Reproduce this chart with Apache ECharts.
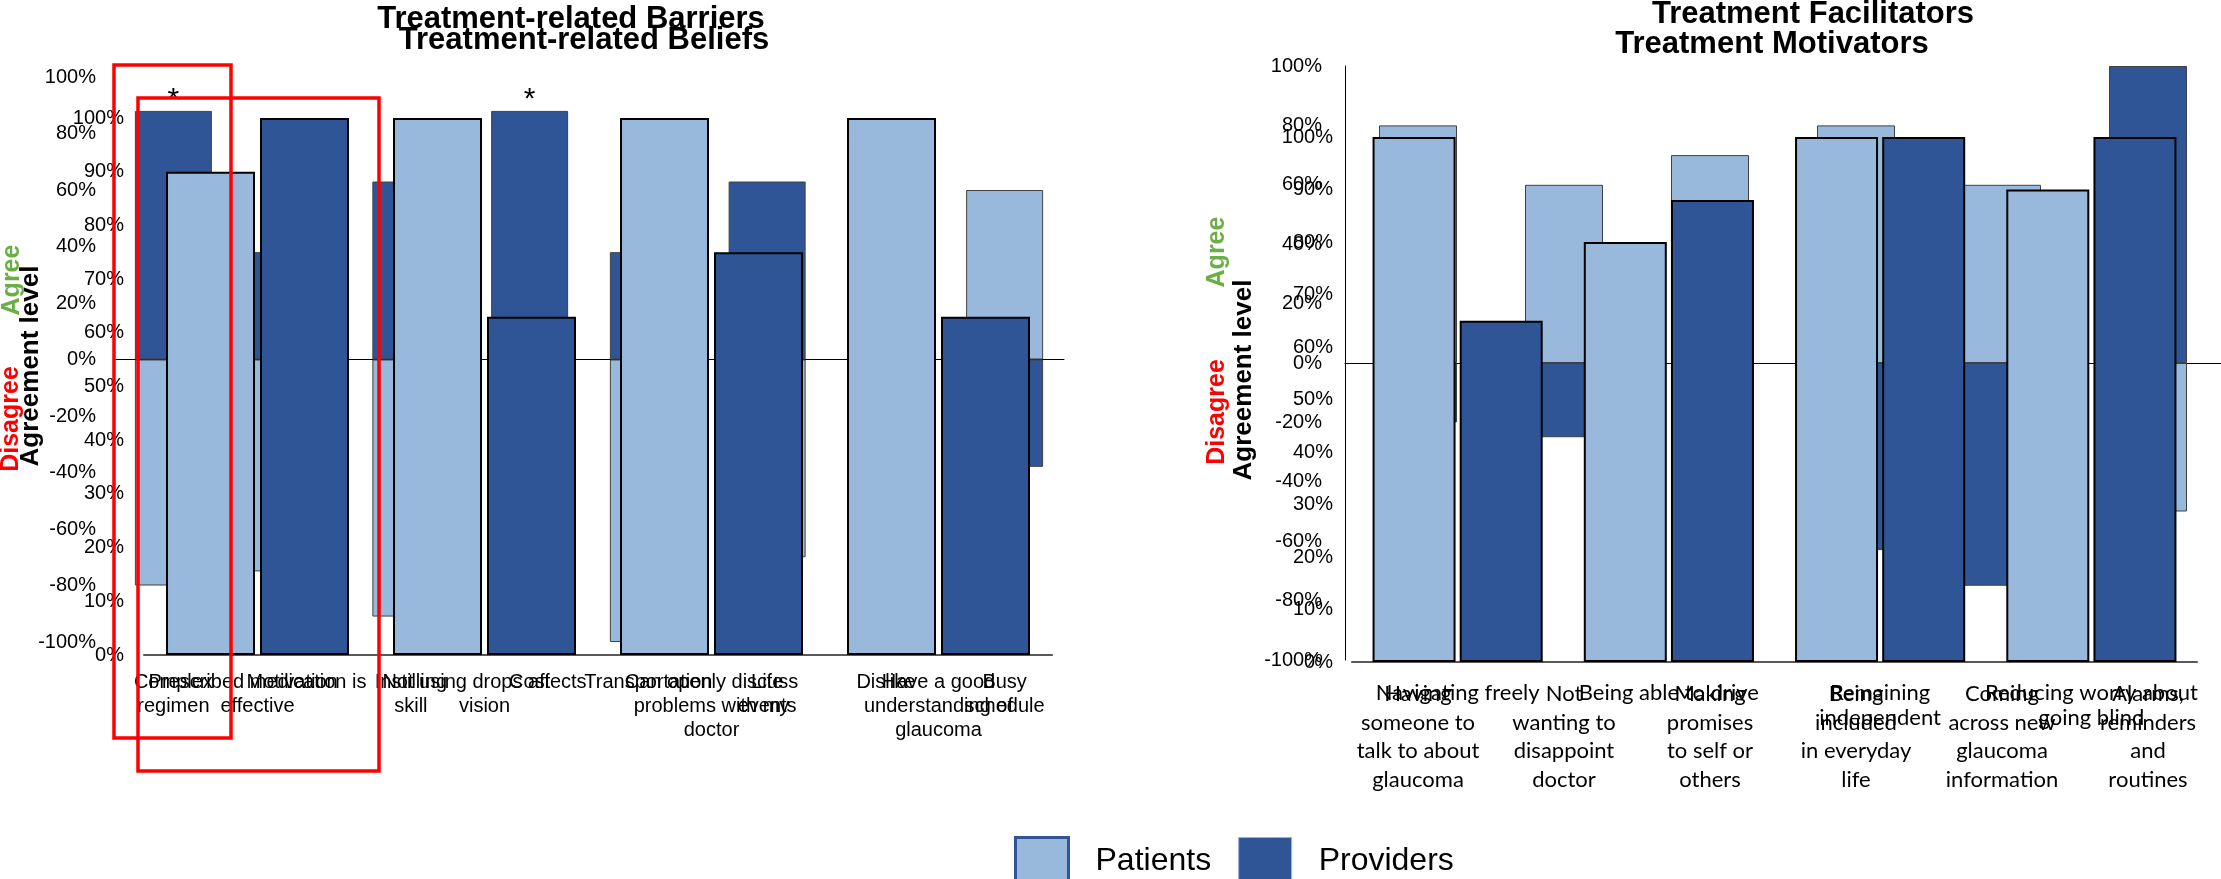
<!DOCTYPE html>
<html>
<head>
<meta charset="utf-8">
<script src="https://cdn.jsdelivr.net/npm/echarts@6/dist/echarts.min.js"></script>
<style>
html,body{margin:0;padding:0;background:#fff;}
#chart{width:2221px;height:879px;}
</style>
</head>
<body>
<div id="chart"></div>
<script>
// ---- Data ----
const barrierCategories = ['Complex\nregimen', 'Motivation', 'Instilling\nskill', 'Cost', 'Transportation', 'Life\nevents', 'Dislike', 'Busy\nschedule'];
const barrierPatients  = [-80, -75, -91, -30, -100, -70, null, 60];
const barrierProviders = [88, 38, 63, 88, 38, 63, null, -38];
const barrierStarred   = [0, 3]; // category indexes with '*'

const beliefCategories = ['Prescribed medication is\neffective', 'Not using drops affects\nvision', 'Can openly discuss\nproblems with my\ndoctor', 'Have a good\nunderstanding of\nglaucoma'];
const beliefPatients  = [90, 100, 100, 100];
const beliefProviders = [100, 63, 75, 63];

const motivatorCategories = ['Having\nsomeone to\ntalk to about\nglaucoma', 'Not\nwanting to\ndisappoint\ndoctor', 'Making\npromises\nto self or\nothers', 'Being\nincluded\nin everyday\nlife', 'Coming\nacross new\nglaucoma\ninformation', 'Alarms,\nreminders\nand\nroutines'];
const motivatorPatients  = [80, 60, 70, 80, 60, -50];
const motivatorProviders = [-20, -25, -20, -63, -75, 100];

const facilitatorCategories = ['Navigating freely', 'Being able to drive', 'Remaining\nindependent', 'Reducing worry about\ngoing blind'];
const facilitatorPatients  = [100, 80, 100, 90];
const facilitatorProviders = [65, 88, 100, 100];

const divergingAxis = {min: -100, max: 100, interval: 20};
const levelAxis = {min: 0, max: 100, interval: 10};

// ---- Styles ----
const LIGHT = '#98B9DC';
const DARK = '#2F5597';
const SANS = "'Liberation Sans', Arial, sans-serif";
const CAL = "Lato, 'Liberation Sans', sans-serif";

const chart = echarts.init(document.getElementById('chart'), null, {renderer: 'canvas'});

function yAx(grid, cfg, margin, line) {
  return {
    type: 'value', gridIndex: grid, min: cfg.min, max: cfg.max, interval: cfg.interval,
    axisLine: {show: !!line, lineStyle: {color: '#000', width: 1}},
    axisTick: {show: false}, splitLine: {show: false},
    axisLabel: {formatter: '{value}%', margin: margin, fontFamily: SANS, fontSize: 20, color: '#000'}
  };
}
function xLabels(grid, cats, margin, family, size, lh, lineShow) {
  return {
    type: 'category', gridIndex: grid, data: cats, position: 'bottom',
    axisLine: {show: !!lineShow, onZero: false, lineStyle: {color: '#595959', width: 2}},
    axisTick: {show: false}, splitLine: {show: false},
    axisLabel: {interval: 0, margin: margin, fontFamily: family, fontSize: size, lineHeight: lh, color: '#000'}
  };
}
function xZero(grid, cats) {
  return {
    type: 'category', gridIndex: grid, data: cats, position: 'top',
    axisLine: {show: true, onZero: true, lineStyle: {color: '#000', width: 1}},
    axisTick: {show: false}, axisLabel: {show: false}, splitLine: {show: false}
  };
}

const thin = c => ({color: c, borderColor: '#404040', borderWidth: 1});
const thick = c => ({color: c, borderColor: '#000', borderWidth: 2});

const barrierProvData = barrierProviders.map((v, i) => barrierStarred.includes(i)
  ? {value: v, label: {show: true, formatter: '*', position: 'top', distance: -4, fontSize: 30, fontFamily: SANS, color: '#000'}}
  : v);

function vtext(x, y, text, color, size) {
  return {type: 'text', x: x, y: y, rotation: Math.PI / 2, z: 50,
    style: {text: text, fill: color, fontFamily: SANS, fontWeight: 'bold', fontSize: size, align: 'center', verticalAlign: 'middle'}};
}
function htext(x, y, text, size) {
  return {type: 'text', x: x, y: y, z: 50,
    style: {text: text, fill: '#000', fontFamily: SANS, fontWeight: 'bold', fontSize: size, align: 'center', verticalAlign: 'middle'}};
}

const option = {
  animation: false,
  backgroundColor: '#fff',
  grid: [
    {left: 114, right: 1157, top: 77, bottom: 237},
    {left: 144, right: 1169, top: 118, bottom: 224},
    {left: 1345, right: -5, top: 66, bottom: 219},
    {left: 1352, right: 24, top: 137, bottom: 217}
  ],
  xAxis: [
    xLabels(0, barrierCategories, 28, SANS, 20, 24, false),
    xZero(0, barrierCategories),
    xLabels(1, beliefCategories, 15, SANS, 20, 24, true),
    xLabels(2, motivatorCategories, 20, CAL, 22, 28.5, false),
    xZero(2, motivatorCategories),
    xLabels(3, facilitatorCategories, 18, CAL, 22, 25, true)
  ],
  yAxis: [
    yAx(0, divergingAxis, 18, false),
    yAx(1, levelAxis, 20, false),
    yAx(2, divergingAxis, 23, true),
    yAx(3, levelAxis, 19, false)
  ],
  legend: {
    left: 1009, top: 831, itemWidth: 53, itemHeight: 47, itemGap: 27, icon: 'rect', selectedMode: false,
    textStyle: {fontFamily: SANS, fontSize: 32, color: '#000', padding: [0, 0, 0, 22]},
    data: [
      {name: 'Patients', itemStyle: {color: LIGHT, borderColor: DARK, borderWidth: 3}},
      {name: 'Providers', itemStyle: {color: DARK, borderColor: '#9DB3DD', borderWidth: 1}}
    ]
  },
  series: [
    {name: 'Patients', type: 'bar', xAxisIndex: 0, yAxisIndex: 0, stack: 'barriers', barWidth: 77, z: 2, itemStyle: thin(LIGHT), data: barrierPatients},
    {name: 'Providers', type: 'bar', xAxisIndex: 0, yAxisIndex: 0, stack: 'barriers', barWidth: 77, z: 2, itemStyle: thin(DARK), data: barrierProvData},
    {name: 'Patients', type: 'bar', xAxisIndex: 2, yAxisIndex: 1, barWidth: 89, barGap: '5.6%', z: 3, itemStyle: thick(LIGHT), data: beliefPatients},
    {name: 'Providers', type: 'bar', xAxisIndex: 2, yAxisIndex: 1, barWidth: 89, barGap: '5.6%', z: 3, itemStyle: thick(DARK), data: beliefProviders},
    {name: 'Patients', type: 'bar', xAxisIndex: 3, yAxisIndex: 2, stack: 'motivators', barWidth: 78, z: 2, itemStyle: thin(LIGHT), data: motivatorPatients},
    {name: 'Providers', type: 'bar', xAxisIndex: 3, yAxisIndex: 2, stack: 'motivators', barWidth: 78, z: 2, itemStyle: thin(DARK), data: motivatorProviders},
    {name: 'Patients', type: 'bar', xAxisIndex: 5, yAxisIndex: 3, barWidth: 83, barGap: '5%', z: 3, itemStyle: thick(LIGHT), data: facilitatorPatients},
    {name: 'Providers', type: 'bar', xAxisIndex: 5, yAxisIndex: 3, barWidth: 83, barGap: '5%', z: 3, itemStyle: thick(DARK), data: facilitatorProviders}
  ],
  graphic: [
    htext(571, 19, 'Treatment-related Barriers', 31),
    htext(584, 40, 'Treatment-related Beliefs', 31),
    htext(1813, 14, 'Treatment Facilitators', 31),
    htext(1772, 44, 'Treatment Motivators', 31),
    vtext(12, 280, 'Agree', '#6AAF46', 25),
    vtext(11, 419, 'Disagree', '#FF0000', 25),
    vtext(31, 366, 'Agreement level', '#000', 26),
    vtext(1217, 252, 'Agree', '#6AAF46', 25),
    vtext(1217, 412, 'Disagree', '#FF0000', 25),
    vtext(1244, 380, 'Agreement level', '#000', 26),
    {type: 'rect', z: 100, shape: {x: 114, y: 65, width: 117, height: 673}, style: {fill: 'none', stroke: '#FF0000', lineWidth: 3.5}},
    {type: 'rect', z: 100, shape: {x: 138, y: 98, width: 241, height: 673}, style: {fill: 'none', stroke: '#FF0000', lineWidth: 3.5}}
  ]
};
chart.setOption(option);
</script>
</body>
</html>
